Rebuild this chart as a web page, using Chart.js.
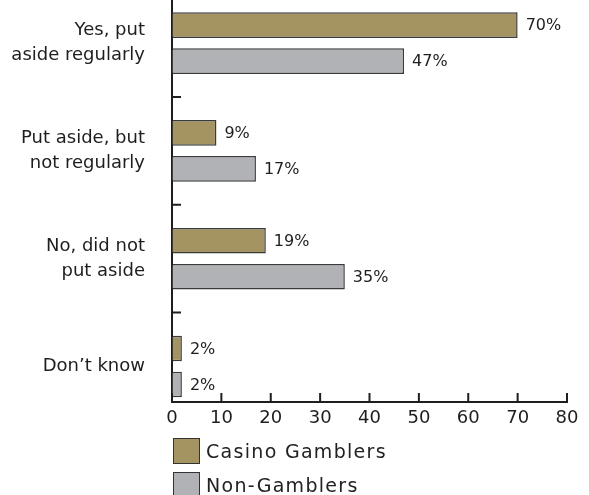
<!DOCTYPE html>
<html>
<head>
<meta charset="utf-8">
<script src="https://cdn.jsdelivr.net/npm/chart.js@4"></script>
<style>
  body { margin: 0; background: #fff; }
  #wrap { position: relative; width: 589px; height: 495px; }
  #legend { position: absolute; left: 173px; top: 438px; font-family: "DejaVu Sans", sans-serif; font-size: 19px; letter-spacing: 1.3px; color: #222; }
  .item { display: flex; align-items: center; height: 26px; margin-bottom: 8px; }
  .box { width: 25px; height: 24px; border: 1.5px solid #333; margin-right: 6px; }
</style>
</head>
<body>
<div id="wrap">
  <canvas id="myChart" width="589" height="495"></canvas>
  <div id="legend"></div>
</div>
<script>
const categories = [
  ['Yes, put', 'aside regularly'],
  ['Put aside, but', 'not regularly'],
  ['No, did not', 'put aside'],
  ["Don\u2019t know"]
];
const casinoGamblers = [70, 9, 19, 2];
const nonGamblers = [47, 17, 35, 2];
const seriesNames = ['Casino Gamblers', 'Non-Gamblers'];
const xTicks = [0, 10, 20, 30, 40, 50, 60, 70, 80];

const gold = '#a39462';
const grey = '#b1b2b6';
const ink = '#1e1e1e';
const font = '"DejaVu Sans", sans-serif';

// tick marks pointing into the plot, plus the % labels
const extras = {
  id: 'extras',
  afterDatasetsDraw(chart) {
    const ctx = chart.ctx;
    ctx.save();
    ctx.font = '16px ' + font;
    ctx.fillStyle = ink;
    ctx.textBaseline = 'middle';
    ctx.textAlign = 'left';
    chart.data.datasets.forEach((ds, d) => {
      chart.getDatasetMeta(d).data.forEach((bar, i) => {
        ctx.fillText(ds.data[i].x + '%', bar.x + 8, bar.y + 1);
      });
    });
    ctx.restore();
  },
  afterDraw(chart) {
    const ctx = chart.ctx;
    const x = chart.scales.x, y = chart.scales.y;
    const area = chart.chartArea;
    ctx.save();
    ctx.strokeStyle = ink;
    ctx.lineWidth = 2;
    ctx.beginPath();
    xTicks.forEach(v => {
      const px = x.getPixelForValue(v);
      ctx.moveTo(px, area.bottom);
      ctx.lineTo(px, area.bottom - 9);
    });
    for (let i = 0; i < categories.length - 1; i++) {
      const py = y.getPixelForValue(i + 0.5);
      ctx.moveTo(area.left, py);
      ctx.lineTo(area.left + 9, py);
    }
    ctx.stroke();
    ctx.restore();
  }
};

const ctx = document.getElementById('myChart').getContext('2d');

const myChart = new Chart(ctx, {
  type: 'bar',
  data: {
    datasets: [{
      label: seriesNames[0],
      data: casinoGamblers.map((v, i) => ({ x: v, y: i })),
      backgroundColor: gold,
      borderColor: '#3a3a3a',
      borderWidth: 1.5
    }, {
      label: seriesNames[1],
      data: nonGamblers.map((v, i) => ({ x: v, y: i })),
      backgroundColor: grey,
      borderColor: '#3a3a3a',
      borderWidth: 1.5
    }]
  },
  options: {
    indexAxis: 'y',
    responsive: false,
    animation: false,
    categoryPercentage: 0.668,
    barPercentage: 0.71,
    layout: { padding: { left: 0, right: 22, top: 0, bottom: 63 } },
    plugins: {
      legend: { display: false },
      tooltip: { enabled: false }
    },
    scales: {
      x: {
        type: 'linear',
        min: 0,
        max: 80,
        grid: { drawOnChartArea: false, drawTicks: false },
        border: { color: ink, width: 2 },
        ticks: {
          stepSize: 10,
          padding: 6,
          color: ink,
          font: { family: font, size: 18 }
        },
        afterFit: (scale) => { scale.height = 30; }
      },
      y: {
        type: 'linear',
        reverse: true,
        offset: false,
        min: -0.4,
        max: 3.33,
        grid: { drawOnChartArea: false, drawTicks: false, offset: false },
        border: { color: ink, width: 2 },
        afterBuildTicks: (scale) => {
          scale.ticks = categories.map((c, i) => ({ value: i }));
        },
        ticks: {
          padding: 27,
          color: ink,
          font: { family: font, size: 18, lineHeight: 1.4 },
          callback: (value, index) => categories[index]
        },
        afterFit: (scale) => {
          scale.width = 172;
          scale.paddingTop = 0;
          scale.paddingBottom = 0;
        }
      }
    }
  },
  plugins: [extras]
});

const legend = document.getElementById('legend');
myChart.data.datasets.forEach(ds => {
  const item = document.createElement('div');
  item.className = 'item';
  const box = document.createElement('span');
  box.className = 'box';
  box.style.background = ds.backgroundColor;
  const text = document.createElement('span');
  text.textContent = ds.label;
  item.appendChild(box);
  item.appendChild(text);
  legend.appendChild(item);
});
</script>
</body>
</html>
